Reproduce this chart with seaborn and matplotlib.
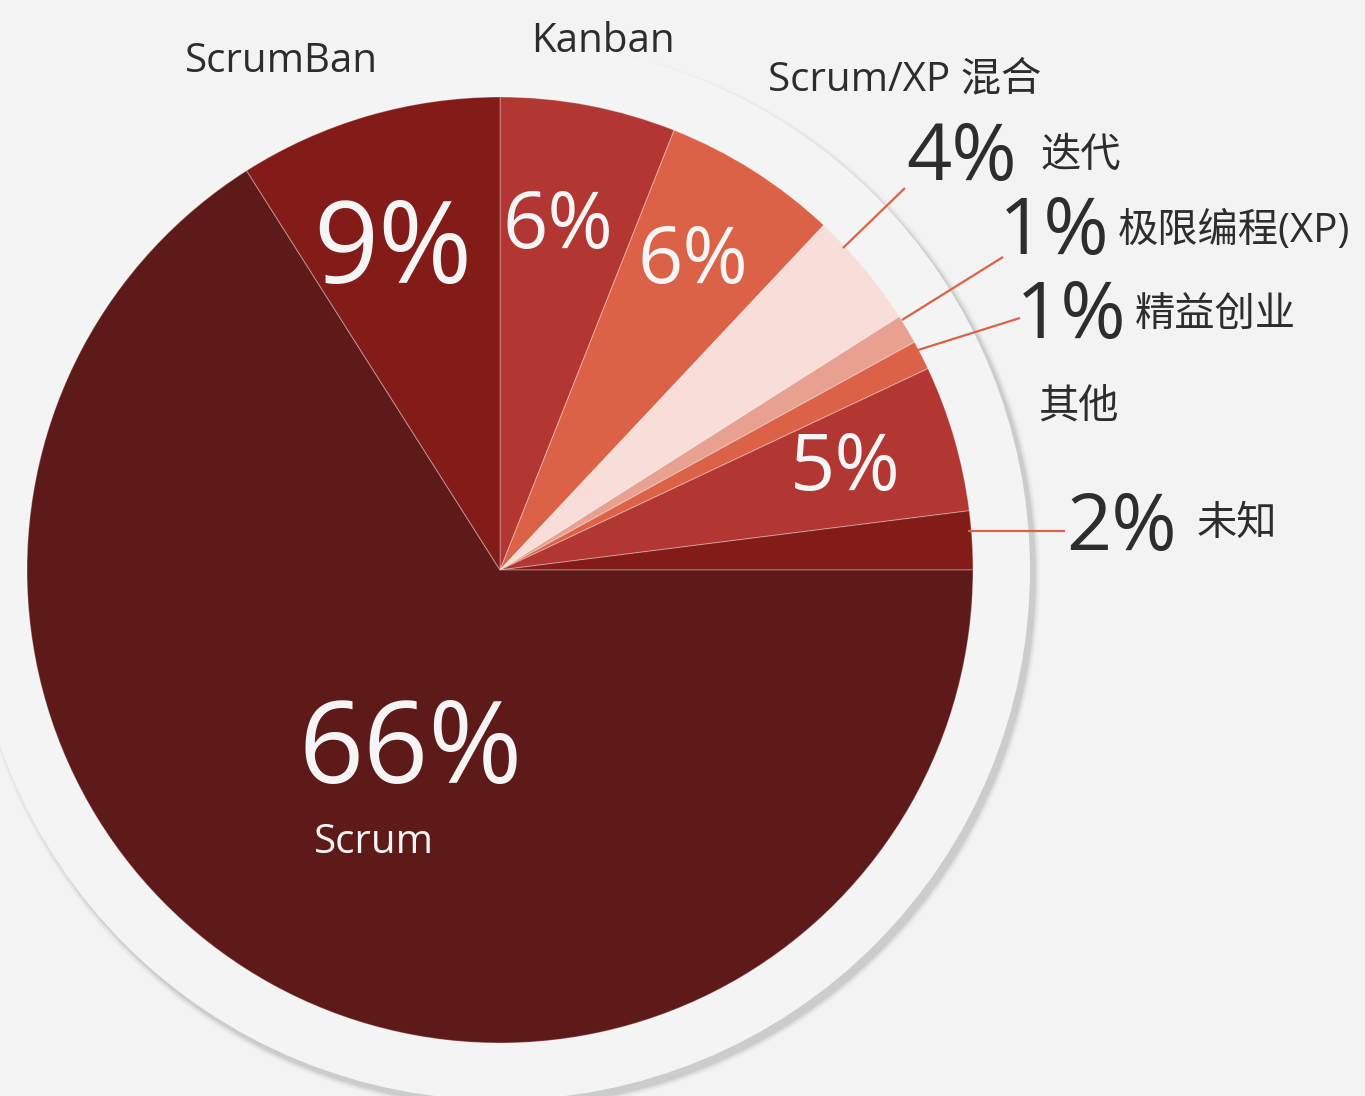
import matplotlib
matplotlib.use("Agg")
import matplotlib.pyplot as plt
from matplotlib.patches import Circle
import seaborn as sns

# ---------------- data ----------------
methods = ["Kanban", "Scrum/XP 混合", "迭代", "极限编程(XP)", "精益创业",
           "其他", "未知", "Scrum", "ScrumBan"]
shares = [6, 6, 4, 1, 1, 5, 2, 66, 9]
colors = ["#b23631", "#db6147", "#f8ddd8", "#e8a090", "#db6147",
          "#b23631", "#831b18", "#5e1a18", "#831b18"]

# ---------------- style ----------------
sns.set_theme(style="white")
plt.rcParams["font.family"] = ["Open Sans", "Noto Sans CJK SC", "DejaVu Sans"]

W, H = 1365, 1096
BG = "#f3f3f3"
DARK = "#2d2d2d"
WHITE = "#f5f5f5"
LEADER = "#db6147"

fig = plt.figure(figsize=(W / 100, H / 100), dpi=100, facecolor=BG)
ax = fig.add_axes([0, 0, 1, 1])
ax.set_facecolor(BG)

def py(y):  # pixel-row -> data y
    return H - y

cx, cy = 500, py(570)
R = 473

# backdrop disc with soft shadow (offset to lower right)
for d, a in [(5, 0.05), (3.5, 0.08), (2, 0.11), (1, 0.13)]:
    ax.add_patch(Circle((cx + 5, cy - 6), 530 + d, color="#8a8c8c",
                        alpha=a, lw=0, zorder=1))
ax.add_patch(Circle((cx + 5, cy - 6), 530, color="#cbcccc", lw=0, zorder=1.5))
ax.add_patch(Circle((cx, cy), 530, color="#f4f4f4", lw=0, zorder=2))

wedges, _ = ax.pie(shares, colors=colors, startangle=90, counterclock=False,
                   center=(cx, cy), radius=R,
                   wedgeprops=dict(linewidth=0.8, edgecolor=(1, 1, 1, 0.3),
                                   zorder=3))

# ---------------- labels (layout) ----------------
# pct: (x, baseline_row, size, color, ha); name: (x, baseline_row, color, ha)
layout = {
    "ScrumBan":     dict(pct=(393, 283, 82, WHITE, "center"), name=(281, 72, DARK, "center")),
    "Kanban":       dict(pct=(558, 248, 57, WHITE, "center"), name=(603, 52, DARK, "center")),
    "Scrum/XP 混合": dict(pct=(693, 283, 57, WHITE, "center"), name=(905, 90, DARK, "center")),
    "其他":          dict(pct=(845, 490, 57, WHITE, "center"), name=(1078, 419, DARK, "center")),
    "Scrum":        dict(pct=(411, 783, 82, WHITE, "center"), name=(374, 853, WHITE, "center")),
    "迭代":          dict(pct=(962, 180, 57, DARK, "center"), name=(1040, 167, DARK, "left"),
                         line=(843, 248, 905, 188)),
    "极限编程(XP)":   dict(pct=(1054, 254, 57, DARK, "center"), name=(1118, 242, DARK, "left"),
                         line=(902, 320, 1003, 257)),
    "精益创业":       dict(pct=(1071, 338, 57, DARK, "center"), name=(1135, 327, DARK, "left"),
                         line=(918, 350, 1020, 318)),
    "未知":          dict(pct=(1121, 550, 57, DARK, "center"), name=(1197, 535, DARK, "left"),
                         line=(968, 531, 1065, 531)),
}

for m, v in zip(methods, shares):
    L = layout[m]
    x, yb, s, c, ha = L["pct"]
    ax.text(x, py(yb), f"{v}%", fontsize=s, color=c, ha=ha, va="baseline", zorder=5)
    x, yb, c, ha = L["name"]
    ax.text(x, py(yb), m, fontsize=29, color=c, ha=ha, va="baseline", zorder=5)
    if "line" in L:
        x1, y1, x2, y2 = L["line"]
        ax.plot([x1, x2], [py(y1), py(y2)], color=LEADER, lw=1.6, zorder=4,
                solid_capstyle="butt")

ax.set_xlim(0, W)
ax.set_ylim(0, H)
ax.set_aspect("equal")
ax.axis("off")

fig.savefig("out.png", dpi=100, facecolor=BG)
